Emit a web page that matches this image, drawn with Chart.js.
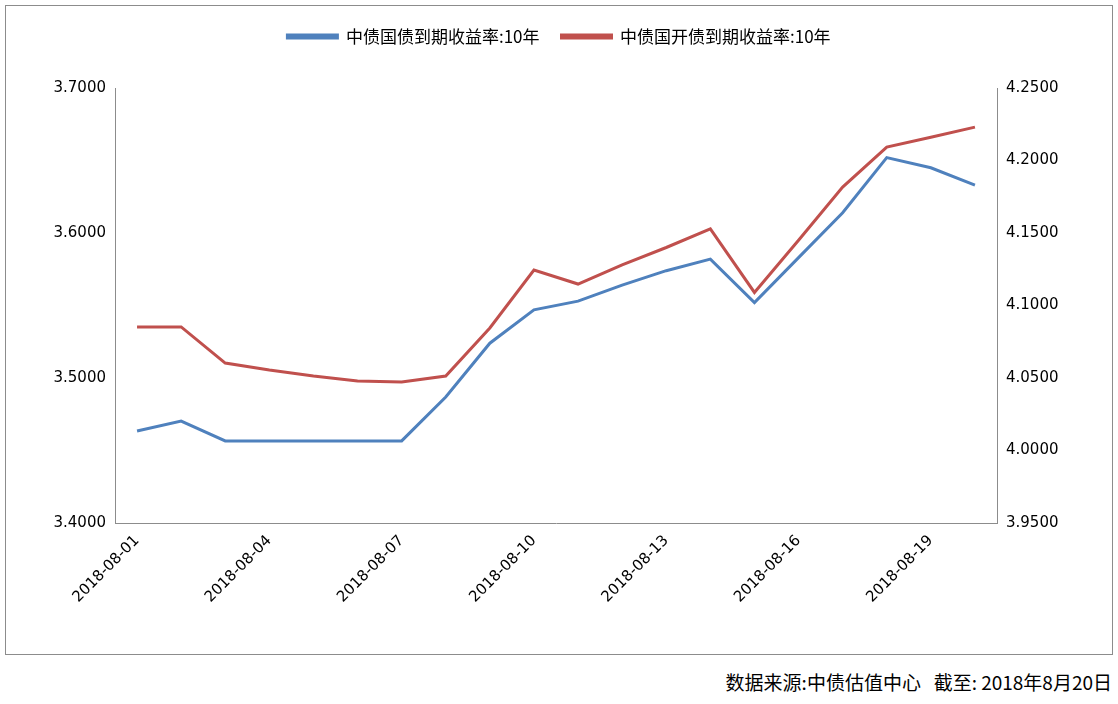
<!DOCTYPE html>
<html>
<head>
<meta charset="utf-8">
<script src="https://cdn.jsdelivr.net/npm/chart.js@4/dist/chart.umd.min.js"></script>
<style>
  body { margin: 0; background: #fff; font-family: "Noto Sans CJK SC", "DejaVu Sans", sans-serif; }
  .frame { position: absolute; left: 5px; top: 5px; width: 1106px; height: 648px; border: 1px solid #8c8c8c; }
  .note { position: absolute; right: 6px; top: 668px; font-size: 19px; color: #000; }
</style>
</head>
<body>
<div class="frame"><canvas id="chart" width="1106" height="648"></canvas></div>
<div class="note">数据来源:中债估值中心&nbsp;&nbsp;&nbsp;截至: 2018年8月20日</div>
<script>
// dates (one per day), only every third one gets a label
const dates = [];
for (let d = 1; d <= 20; d++) dates.push('2018-08-' + String(d).padStart(2, '0'));

const govYield = [3.4634, 3.4703, 3.4566, 3.4566, 3.4566, 3.4566, 3.4566, 3.4869, 3.524, 3.547,
  3.553, 3.564, 3.574, 3.582, 3.552, 3.583, 3.614, 3.652, 3.645, 3.633];
const cdbYield = [4.0852, 4.0852, 4.0603, 4.0555, 4.0514, 4.048, 4.0472, 4.0514, 4.0845, 4.1245,
  4.1148, 4.128, 4.140, 4.1528, 4.109, 4.145, 4.1817, 4.2093, 4.216, 4.223];

const tickFont = { family: 'DejaVu Sans', size: 15 };

// fixes the legend block height so the plot starts where the reference does
const legendHeight = {
  id: 'legendHeight',
  beforeInit(chart) {
    const fit = chart.legend.fit;
    chart.legend.fit = function () { fit.bind(chart.legend)(); this.height = 82; };
  }
};

const myChart = new Chart(document.getElementById('chart'), {
  type: 'line',
  data: {
    labels: dates,
    datasets: [
      { label: '中债国债到期收益率:10年', data: govYield, borderColor: '#4f81bd', backgroundColor: '#4f81bd',
        borderWidth: 3, pointRadius: 0, tension: 0, yAxisID: 'y' },
      { label: '中债国开债到期收益率:10年', data: cdbYield, borderColor: '#c0504d', backgroundColor: '#c0504d',
        borderWidth: 3, pointRadius: 0, tension: 0, yAxisID: 'y1' }
    ]
  },
  options: {
    responsive: false,
    animation: false,
    layout: { padding: 0 },
    plugins: {
      legend: {
        labels: { font: { family: 'Noto Sans CJK SC', size: 17 }, color: '#000', boxWidth: 50, boxHeight: 3, padding: 22 }
      },
      tooltip: { enabled: false }
    },
    scales: {
      x: {
        offset: true,
        afterFit: s => { s.height = 131; },
        grid: { display: false, drawTicks: true, tickLength: 6, color: '#8c8c8c' },
        border: { color: '#8c8c8c' },
        ticks: {
          autoSkip: false, maxRotation: 45, minRotation: 45, color: '#000', font: tickFont,
          callback: function (v, i) { return i % 3 === 0 ? dates[i] : ''; }
        }
      },
      y: {
        position: 'left', min: 3.4, max: 3.7,
        afterFit: s => { s.width = 109; },
        grid: { display: false, drawTicks: true, tickLength: 6 },
        border: { color: '#8c8c8c' },
        ticks: { stepSize: 0.1, color: '#000', font: tickFont, callback: v => v.toFixed(4) }
      },
      y1: {
        position: 'right', min: 3.95, max: 4.25,
        afterFit: s => { s.width = 115; },
        grid: { display: false, drawTicks: true, tickLength: 6 },
        border: { color: '#8c8c8c' },
        ticks: { stepSize: 0.05, color: '#000', font: tickFont, callback: v => v.toFixed(4) }
      }
    }
  },
  plugins: [legendHeight]
});
</script>
</body>
</html>
